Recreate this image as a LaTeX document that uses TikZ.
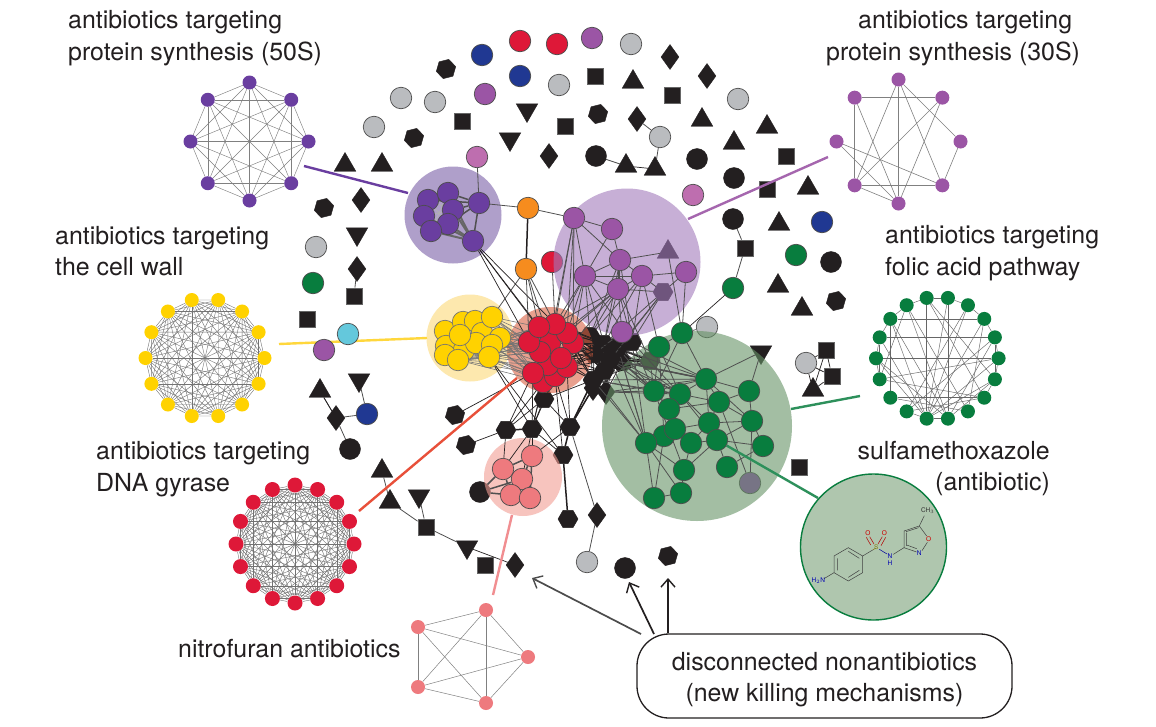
\documentclass[tikz,border=0pt]{standalone}
\usepackage{fontspec}
\setmainfont{TeX Gyre Heros}
\usetikzlibrary{shapes.geometric,arrows.meta}
\pgfdeclarelayer{under}\pgfdeclarelayer{halo}\pgfdeclarelayer{edgelay}
\pgfsetlayers{under,halo,edgelay,main}
\definecolor{ink}{RGB}{35,31,32}
\definecolor{cgrey}{RGB}{186,188,191}
\definecolor{cblue}{RGB}{32,56,146}
\definecolor{cred}{RGB}{222,24,56}
\definecolor{cpur}{RGB}{155,85,165}
\definecolor{cdpur}{RGB}{106,62,160}
\definecolor{corch}{RGB}{190,110,175}
\definecolor{cgreen}{RGB}{8,125,62}
\definecolor{corange}{RGB}{246,140,30}
\definecolor{cyel}{RGB}{255,210,0}
\definecolor{ccyan}{RGB}{100,200,220}
\definecolor{csal}{RGB}{238,122,126}
\definecolor{cviol}{RGB}{145,70,180}
\definecolor{hgreen}{RGB}{102,147,102}
\definecolor{hdpur}{RGB}{123,95,168}
\definecolor{hpur}{RGB}{162,122,187}
\definecolor{hyel}{RGB}{252,218,120}
\definecolor{hred}{RGB}{218,97,67}
\definecolor{hsal}{RGB}{242,157,147}
\definecolor{molfill}{RGB}{175,198,174}
\definecolor{edgec}{RGB}{80,80,80}
\definecolor{lred}{RGB}{232,80,58}
\definecolor{lyel}{RGB}{255,215,60}
\tikzset{
 x=1pt,y=-1pt,
 cir/.style={circle,draw=black!70,line width=.7pt,fill=#1,minimum size=21.5pt,inner sep=0pt},
 cbk/.style={circle,draw=ink,fill=ink,minimum size=21pt,inner sep=0pt},
 sqr/.style={rectangle,draw=black!60,line width=.3pt,fill=ink,minimum size=16.5pt,inner sep=0pt},
 trp/.style={regular polygon,regular polygon sides=3,draw=ink,fill=ink,minimum size=25pt,inner sep=0pt,yshift=-3pt},
 trd/.style={regular polygon,regular polygon sides=3,shape border rotate=180,draw=ink,fill=ink,minimum size=25pt,inner sep=0pt,yshift=3pt},
 dia/.style={diamond,draw=ink,fill=ink,minimum width=18pt,minimum height=25pt,inner sep=0pt},
 hexa/.style={regular polygon,regular polygon sides=6,draw=ink,fill=ink,minimum size=20pt,inner sep=0pt},
 hexr/.style={hexa,shape border rotate=14},
 mini/.style={circle,fill=#1,minimum size=14pt,inner sep=0pt},
 haloc/.style={fill=#1,fill opacity=.6},
 e/.style={draw=edgec,line width=.8pt},
 ebk/.style={draw=ink,line width=.7pt},
 eth/.style={draw=edgec,line width=1.5pt},
 ebth/.style={draw=ink,line width=1.5pt},
 ml/.style={draw=black!75,line width=.5pt},
 lab/.style={font=\fontsize{24.9}{31.5}\selectfont,text=ink,inner sep=0pt,align=left},
 atm/.style={font=\fontsize{6.5}{7}\selectfont,inner sep=0pt},
 lead/.style={line width=2.4pt,draw=#1},
 arr/.style={-{Straight Barb[length=8pt,width=14pt,line width=1.4pt]},line width=1.7pt,draw=#1},
}
\begin{document}
\begin{tikzpicture}
\useasboundingbox (0,0) rectangle (1156,726);

% ---------- nodes beneath the halos
\begin{pgfonlayer}{under}
\fill[white] (0,0) rectangle (1156,726);
\foreach \n/\p in {a1/{401,98},a2/{435,102},a3/{374,127},a4/{559,85},a5/{631,44},a6/{738,99},a7/{660,137},a8/{316,247},a9/{587,562},a10/{806,363},gg/{707,327}}
  \node[cir=cgrey] (\n) at (\p) {};
\foreach \n/\p in {c1/{596,156},c2/{697,159},c3/{734,178},c4/{733,219},c5/{831,262},c6/{350,449},c7/{480,492},c8/{625,568}}
  \node[cbk] (\n) at (\p) {};
\foreach \n/\p in {s1/{462,121},s2/{565,126},s3/{595,76},s4/{672,95},s5/{786,156},s6/{767,189},s7/{745,248},s8/{354,296},s9/{307,319},s10/{826,350},s11/{832,376},s12/{426,527},s13/{485,565},s14/{799,467}}
  \node[sqr] (\n) at (\p) {};
\foreach \n/\p in {t1/{345,162},t2/{382,162},t3/{633,79},t4/{702,117},t5/{767,124},t6/{626,163},t7/{655,166},t8/{734,140},t9/{808,185},t10/{779,221},t11/{778,283},t12/{802,306},t13/{813,387},t14/{320,388},t15/{382,468},t16/{390,499},pt/{668,249}}
  \node[trp] (\n) at (\p) {};
\foreach \n/\p in {d1/{527,113},d2/{510,142},d3/{357,237},d4/{359,383},d5/{419,499},d6/{467,550},gi/{761,355}}
  \node[trd] (\n) at (\p) {};
\foreach \n/\p in {m1/{670,57},m2/{707,76},m3/{637,119},m4/{549,156},m5/{361,200},m6/{357,269},m7/{336,418},m8/{597,515},m9/{515,565},m10/{593,388},m11/{606,392}}
  \node[dia] (\n) at (\p) {};
\foreach \n/\p in {h1/{446,69},h2/{414,138},h3/{598,114},h4/{324,208},h5/{836,301},h13/{668,556},h6/{455,415},h7/{466,445}}
  \node[hexr] (\n) at (\p) {};
\foreach \n/\p in {h8/{506,430},h9/{532,429},h10/{570,427},h11/{563,455},h12/{568,519},h14/{544,399},ph/{663,292},gh/{650,361},
  k1/{590,336},k2/{604,344},k3/{618,348},k4/{632,342},k5/{594,354},k6/{610,360},k7/{604,371},k8/{622,362},k9/{593,380}}
  \node[hexa] (\n) at (\p) {};
\node[cir=cviol] (gv) at (750,483) {};
\node[cir=cred] (rh) at (552,262) {};
\end{pgfonlayer}

% ---------- halos
\begin{pgfonlayer}{halo}
\fill[haloc=hgreen] (697,426) circle (95);
\fill[haloc=hpur] (627,262) circle (73.5);
\fill[haloc=hdpur] (453,215) circle (48.5);
\fill[haloc=hyel] (470,338) circle (43.5);
\fill[haloc=hred] (550,350) circle (43);
\fill[haloc=hsal] (523,477) circle (39);
\end{pgfonlayer}

% ---------- loose coloured nodes
\foreach \n/\p in {b1/{482,55},b2/{520,76},b3/{822,222},b4/{367,414}} \node[cir=cblue] (\n) at (\p) {};
\foreach \n/\p in {e1/{520,41},e2/{557,44}} \node[cir=cred] (\n) at (\p) {};
\foreach \n/\p in {f1/{592,38},f2/{485,94},f3/{324,350}} \node[cir=cpur] (\n) at (\p) {};
\foreach \n/\p in {o1/{477,157},o2/{693,195}} \node[cir=corch] (\n) at (\p) {};
\foreach \n/\p in {v1/{796,255},v2/{313,283},v3/{733,288}} \node[cir=cgreen] (\n) at (\p) {};
\node[cir=ccyan] (cy) at (348,334) {};
\node[cir=corange] (or1) at (528,208) {};
\node[cir=corange] (or2) at (526,269) {};

% ---------- clusters
\foreach \n/\p in {1/{428,200},2/{448,193},3/{453,210},4/{424,216},5/{448,224},6/{431,231},7/{479,203},8/{473,241}}
  \node[cir=cdpur] (pd\n) at (\p) {};
\foreach \n/\p in {1/{574,218},2/{612,229},3/{620,260},4/{585,276},5/{642,276},6/{618,289},7/{686,272},8/{622,332}}
  \node[cir=cpur] (pu\n) at (\p) {};
\foreach \n/\p in {1/{445,331},2/{463,322},3/{475,321},4/{482,333},5/{500,338},6/{446,346},7/{464,350},8/{445,355},9/{476,343},10/{492,317},11/{492,345},12/{460,335},13/{458,360},14/{489,357}}
  \node[cir=cyel,draw=black!55] (y\n) at (\p) {};
\foreach \n/\p in {1/{543,382},2/{555,376},3/{567,367},4/{548,365},5/{533,373},6/{550,343},7/{573,343},8/{567,333},9/{555,324},10/{561,358},11/{540,352},12/{529,342},13/{539,327}}
  \node[cir=cred] (r\n) at (\p) {};
\foreach \n/\p in {1/{532,456},2/{503,469},3/{522,479},4/{511,495},5/{530,498}}
  \node[cir=csal] (sa\n) at (\p) {};
\foreach \n/\p in {1/{682,333},2/{659,347},3/{706,379},4/{654,391},5/{680,394},6/{749,391},7/{719,402},8/{669,409},9/{752,421},10/{709,423},11/{664,436},12/{646,443},13/{675,429},14/{691,443},15/{717,440},16/{763,446},17/{684,470},18/{727,467},19/{654,498},20/{681,493}}
  \node[cir=cgreen] (gn\n) at (\p) {};

% ---------- mini networks
\foreach \i in {1,...,8} \node[mini=cdpur] (ma\i) at ({249.5+59*cos(45*\i)},{141.5+59*sin(45*\i)}) {};
\foreach \n/\a in {T/-90,TR/-45,R/0,BR/45,B/90,BL/135,L/180,TL/225} \node[mini=cpur] (mb\n) at ({898.5+62*cos(\a)},{141.5+62*sin(\a)}) {};
\foreach \i in {1,...,14} \node[mini=cyel] (mc\i) at ({205+59.5*cos(360/14*\i)},{358+59.5*sin(360/14*\i)}) {};
\foreach \i in {1,...,16} \node[mini=cred,minimum size=15pt] (md\i) at ({295+59*cos(22.5*\i)},{544+59*sin(22.5*\i)}) {};
\foreach \i in {0,...,17} \node[mini=cgreen] (me\i) at ({937.3+61.3*cos(100-20*\i)},{358.3-61.3*sin(100-20*\i)}) {};
\foreach \i/\p in {1/{486,610},2/{418,627},3/{528,657},4/{418,687},5/{486,703}} \node[mini=csal] (mf\i) at (\p) {};

% ---------- edges
\begin{pgfonlayer}{edgelay}
\foreach \i in {1,...,8}\foreach \j in {1,...,8}{\ifnum\i<\j \draw[draw=black!50,line width=.45pt] (ma\i) -- (ma\j);\fi}
\foreach \i in {1,...,14}\foreach \j in {1,...,14}{\ifnum\i<\j \draw[draw=black!55,line width=.4pt] (mc\i) -- (mc\j);\fi}
\foreach \i in {1,...,16}\foreach \j in {1,...,16}{\ifnum\i<\j \draw[draw=black!55,line width=.4pt] (md\i) -- (md\j);\fi}
\foreach \a/\b in {TL/TR,T/BL,T/B,T/R,T/BR,TL/B,TR/BL,TR/B,R/BR,L/BR,L/B,BL/BR,BL/B,TL/BL}
  \draw[draw=black!50,line width=.6pt] (mb\a) -- (mb\b);
\foreach \a/\b in {0/1,0/17,1/2,2/3,3/4,4/5,5/6,6/7,13/14,14/15,15/16,16/17,9/10,10/11,0/10,16/3,14/5,13/5,0/7,0/6,1/10,1/9,2/10,3/10,17/9,17/8,16/10,16/9,15/4,15/10,14/9,14/10,12/7,13/7,12/8,11/4,10/5,10/6,9/6,9/4,8/3,16/12,17/13,2/11,4/6,15/13,11/7}
  \draw[draw=black!60,line width=.45pt] (me\a) -- (me\b);
\foreach \a/\b in {1/2,1/3,1/4,1/5,2/3,2/4,2/5,3/4,3/5,4/5}
  \draw[draw=black!50,line width=.5pt] (mf\a) -- (mf\b);

\foreach \a/\b in {a7/m3,a7/t7,c1/t6,o1/pd7,pd7/or1,or1/pu1,or2/y10,rh/r9,m6/s8,t14/m7,m7/b4,m7/c6,d4/b4,t16/s12,d5/s12,s12/d6,t15/t16,m8/h10,m8/a9,c4/s7,s7/v3}
  \draw[e] (\a) -- (\b);
\foreach \a/\b in {t6/t7,t14/m7,d6/m9,a10/s10,a10/s11,a10/t13,s10/s11,s10/t13,s11/t13}
  \draw[ebk] (\a) -- (\b);
\draw[ebth] (or1) -- (or2);
\draw[ebth] (h11) -- (h12);
\draw[ebth] (h10) -- (h11);
\draw[ebk] (v3) -- (gn1);
\foreach \b in {r13,r9,r12,r6} {\draw[e] (or2) -- (\b); \draw[ebk] (pd8) -- (\b);}
\foreach \a/\b in {1/2,1/3,1/4,2/3,2/5,3/4,3/5,4/5,4/6,5/6,1/5,2/4,3/6,6/1,2/6}
  \draw[draw=white!70!black,line width=.8pt] (pd\a) -- (pd\b);
\foreach \b in {2,3,5,1} \draw[eth] (pd7) -- (pd\b);
\foreach \b in {3,5,6,4,2} {\draw[line width=2pt,draw=black!60] (pd8) -- (pd\b);}
\draw[eth] (pd7) -- (pd8);
\foreach \a/\b in {1/2,1/3,1/4,2/3,2/4,3/4,3/5,4/6,5/6,5/7,4/5,6/8} \draw[e] (pu\a) -- (pu\b);
\draw[line width=2pt,draw=edgec] (pu3) -- (pu6);
\foreach \a/\b in {pu3/pt,pu5/ph,pu7/ph,pu6/ph,pt/gn1,ph/k4,ph/k3,ph/k2,ph/k6}
  \draw[e] (\a) -- (\b);
\foreach \a in {pu1,pu4,pu6} \foreach \b in {r8,r9,r7,r6} \draw[e] (\a) -- (\b);
\foreach \a in {pu4,pu6,pu3,pu5} \foreach \b in {k1,k2,k4} \draw[e] (\a) -- (\b);
\foreach \a/\b in {pu5/gn2,pu7/gn1,pu8/k4,pu8/k2,pu8/k5,pu6/gh}
  \draw[e] (\a) -- (\b);
% yellow / red bundles
\foreach \a in {y10,y5,y11,y14,y7,y13} \foreach \b in {r12,r13,r11,r5,r6,r4,r1}
  \draw[draw=black!55,line width=.55pt] (\a) -- (\b);
\foreach \a/\b in {1/2,2/3,3/4,4/5,6/7,7/9,9/11,8/13,13/14,12/4,1/6,6/8,9/14}
  \draw[e] (y\a) -- (y\b);
\foreach \b in {y13,y7,y9} \draw[line width=2pt,draw=black!50] (y14) -- (\b);
\foreach \a/\b in {r1/r2,r2/r3,r4/r5,r6/r7,r8/r9,r10/r11,r12/r13,r4/r10,r6/r11,r7/r10,r5/r11}
  \draw[e] (\a) -- (\b);
% red / black bundles
\foreach \a in {r7,r8,r3,r10,r9} \foreach \b in {k1,k2,k3,k5,k6,k7,k9}
  \draw[ebk] (\a) -- (\b);
\foreach \a in {k1,k2,k3,k5,k6,k7,k8,k9} \foreach \b in {k4,gh,m10,m11}
  \draw[ebk] (\a) -- (\b);
% bottom fan
\foreach \a/\b in {r5/h6,r1/h8,r1/h9,r2/h9,r5/h8,r4/h9,r5/h9,h14/h8,h14/h9,h14/h10,r1/h14,r2/h14,r2/h10,r3/h10,r2/h11,y14/h9,h8/h7,h8/h9,h9/sa1,h9/sa2,h9/h11,h10/sa1,h8/sa2,h9/sa3,y14/h11,m10/h10,k9/h14}
  \draw[ebk] (\a) -- (\b);
\foreach \a/\b in {h9/h8,h10/m10,h10/k9} \draw[ebth] (\a) -- (\b);
\foreach \a/\b in {1/2,1/3,1/5,2/3,2/4,3/4,3/5,4/5} \draw[eth] (sa\a) -- (sa\b);
\foreach \b in {2,3,4} \draw[eth] (c7) -- (sa\b);
% green cluster
\foreach \a/\b in {1/2,1/3,1/4,2/4,2/5,3/4,3/5,3/6,3/7,4/5,4/8,5/7,5/8,5/10,6/7,6/9,7/10,7/9,7/8,8/13,9/10,9/16,9/15,10/13,10/15,10/14,13/11,13/14,13/12,11/12,14/15,14/17,15/18,15/16,15/17,16/18,12/19,12/20,12/17,11/19,17/20,19/20,4/17,2/11,5/15,8/14,3/10,3/9}
  \draw[e] (gn\a) -- (gn\b);
\foreach \a/\b in {gn1/gg,gn3/gi,gn6/gi,gn7/gv,gn9/gv,gn2/gh,gn4/gh}
  \draw[e] (\a) -- (\b);
\foreach \a in {k3,k4,k6,k8,k9,m11} \foreach \b in {gn4,gn5,gn12,gn3}
  \draw[e] (\a) -- (\b);
\draw[eth] (k8) -- (gn3);
\draw[eth] (k8) -- (gn4);
% leader lines
\draw[lead=cdpur] (304,166) coordinate (la1) -- (408,193) coordinate (la1b);
\draw[lead={cpur!90!white}] (828,157) coordinate (la2) -- (688,219) coordinate (la3);
\draw[lead=lyel] (279,344) coordinate (la4) -- (427,338) coordinate (la5);
\draw[lead=lred] (359,511) coordinate (la6) -- (517,378) coordinate (la7);
\draw[lead={csal!85!white}] (493,595) coordinate (la8) -- (512,515) coordinate (la9);
\draw[lead={cgreen!85!white}] (791,409) coordinate (la10) -- (860,396) coordinate (la11);
\draw[lead=cgreen!85!white] (gn15) -- (818,498) coordinate (la12);
\end{pgfonlayer}

% ---------- molecule inset
\node[circle,draw=cgreen,line width=1.4pt,fill=molfill,minimum size=146pt,inner sep=0pt] (mol) at (873.5,547) {};
\begin{scope}[shift={(790,450)},x=.3333pt,y=-.3333pt]
\draw[ml] (132,318) -- (175,293) -- (218,318) -- (218,368) -- (175,393) -- (132,368) -- cycle;
\draw[ml] (142,325) -- (142,361) (175,304) -- (208,325) (175,382) -- (208,361);
\draw[ml] (132,368) -- (102,386);
\draw[ml] (218,318) -- (248,300);
\draw[draw=olive!80!black,line width=.5pt] (248,300) -- (258,294);
\draw[draw=red!70!black,line width=.5pt] (252,282) -- (239,260) (242,285) -- (229,262) (264,282) -- (277,260) (273,287) -- (287,262);
\draw[draw=blue!60!black,line width=.5pt] (268,298) -- (291,312);
\draw[ml] (310,313) -- (342,293) -- (342,243) -- (388,228) -- (410,258);
\draw[ml] (350,288) -- (350,248) (348,245) -- (386,233);
\draw[ml] (342,293) -- (380,306) (350,285) -- (380,296);
\draw[ml] (396,302) -- (412,277);
\draw[ml] (388,228) -- (403,197);
\node[atm,text=blue!70!black] at (85,393) {H$_2$N};
\node[atm,text=olive!90!black] at (259,292) {S};
\node[atm,text=red!80!black] at (234,250) {O};
\node[atm,text=red!80!black] at (283,250) {O};
\node[atm,text=blue!70!black] at (300,318) {N};
\node[atm,text=blue!70!black] at (300,339) {H};
\node[atm,text=red!80!black] at (416,267) {O};
\node[atm,text=blue!70!black] at (388,310) {N};
\node[atm,text=black!80] at (413,181) {CH$_3$};
\end{scope}

% ---------- labels
\node[lab,anchor=west] (l1) at (68,38) {antibiotics targeting\\protein synthesis (50S)};
\node[lab,anchor=west] (l2) at (826,38) {\hspace*{32pt}antibiotics targeting\\protein synthesis (30S)};
\node[lab,anchor=west] (l3) at (55,251) {antibiotics targeting\\the cell wall};
\node[lab,anchor=west] (l4) at (885,253) {antibiotics targeting\\folic acid pathway};
\node[lab,anchor=west] (l5) at (96,469) {antibiotics targeting\\DNA gyrase};
\node[lab,anchor=east,align=right] (l6) at (1050,468.5) {sulfamethoxazole\\(antibiotic)};
\node[lab,anchor=west] (l7) at (178,649) {nitrofuran antibiotics};

% ---------- callout
\node[draw=ink,line width=1.3pt,fill=white,rounded corners=32pt,minimum width=375pt,minimum height=84pt,inner sep=0pt,lab,align=center] (box) at (824.5,676) {\rule{0pt}{25pt}disconnected nonantibiotics\\(new killing mechanisms)};
\coordinate (ar1) at (654,634);
\coordinate (ar2) at (668,633);
\coordinate (ar3) at (641,634);
\coordinate (tp1) at (629,582);
\coordinate (tp2) at (668,578);
\coordinate (tp3) at (532,578);
\draw[arr=ink] (ar1) -- (tp1);
\draw[arr=ink] (ar2) -- (tp2);
\draw[arr=black!70] (ar3) -- (tp3);
\end{tikzpicture}
\end{document}
